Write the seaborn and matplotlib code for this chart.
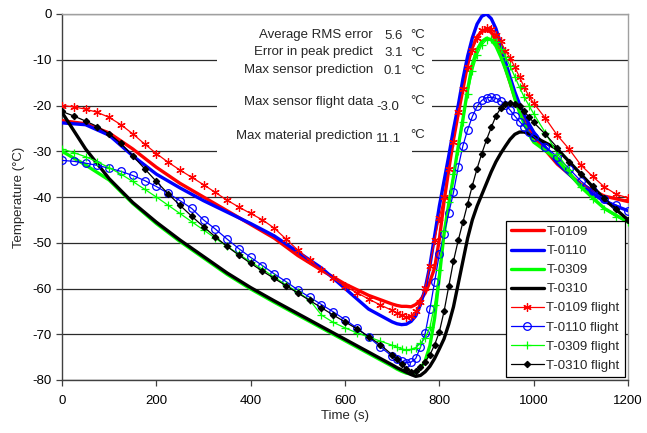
import numpy as np
import pandas as pd
import matplotlib
matplotlib.use("Agg")
import matplotlib.pyplot as plt
from matplotlib.patches import Rectangle
import seaborn as sns

# ---------------- data ----------------
time_pred = [0, 50, 100, 150, 200, 250, 300, 350, 400, 450, 500, 550, 600, 650, 700,
             710, 720, 730, 740, 750, 760, 770, 780, 790, 800, 810, 820, 830, 840, 850,
             860, 870, 880, 890, 900, 910, 920, 930, 940, 950, 960, 970, 980, 990, 1000,
             1050, 1100, 1150, 1200]

t0109 = [-23.3, -24.0, -26.0, -29.5, -33.5, -37.0, -40.0, -43.0, -46.0, -49.0, -52.8, -56.0, -59.0, -61.5, -63.4,
         -63.7, -63.9, -63.9, -64.0, -63.5, -62.5, -61.0, -58.5, -55.5, -49.3, -41.0, -34.0, -27.5, -21.8, -16.5,
         -11.0, -7.3, -5.0, -3.8, -3.5, -4.0, -5.8, -8.5, -11.8, -15.0, -18.3, -21.0, -23.3, -25.2, -26.8,
         -32.8, -37.2, -39.8, -41.0]

t0110 = [-23.8, -24.2, -26.5, -31.0, -35.0, -38.0, -40.8, -43.3, -45.8, -48.5, -52.0, -55.5, -60.0, -64.5, -67.3,
         -67.7, -67.9, -67.8, -67.2, -66.0, -63.5, -60.0, -55.0, -48.5, -42.0, -36.5, -31.0, -25.2, -20.0, -14.2,
         -9.2, -5.2, -2.2, -0.5, 0.0, -1.0, -3.2, -6.5, -10.3, -13.8, -17.0, -19.7, -22.0, -24.0, -25.8,
         -32.5, -37.5, -41.0, -43.0]

t0309 = [-30.0, -33.0, -36.3, -41.4, -45.8, -49.7, -53.3, -56.9, -60.1, -63.0, -65.8, -68.6, -71.4, -74.2, -77.0,
         -77.6, -78.1, -78.5, -78.7, -78.4, -77.5, -75.8, -72.5, -66.5, -57.5, -48.0, -41.5, -35.5, -29.0, -23.0,
         -16.5, -11.0, -7.8, -6.0, -5.3, -5.6, -7.0, -9.3, -12.0, -15.0, -18.5, -21.5, -24.0, -26.3, -28.0,
         -31.8, -37.8, -42.5, -45.5]

t0310 = [-21.5, -29.5, -36.0, -41.2, -45.5, -49.4, -53.0, -56.6, -59.8, -62.7, -65.5, -68.3, -71.1, -73.9, -76.7,
         -77.3, -77.8, -78.3, -78.8, -79.2, -79.0, -78.2, -77.0, -75.3, -73.2, -71.0, -67.8, -64.0, -59.0, -54.0,
         -49.0, -45.0, -42.0, -39.5, -37.0, -34.5, -32.3, -30.5, -28.9, -27.4, -26.3, -25.8, -25.8, -26.2, -26.8,
         -29.5, -35.0, -40.5, -45.0]

time_flight = [0, 25, 50, 75, 100, 125, 150, 175, 200, 225, 250, 275, 300, 325, 350, 375, 400, 425, 450,
               475, 500, 525, 550, 575, 600, 625, 650, 675, 700,
               710, 720, 730, 740, 750, 760, 770, 780, 790, 800, 810, 820, 830, 840, 850, 860, 870, 880,
               890, 900, 910, 920, 930, 940, 950, 960, 970, 980, 990, 1000,
               1025, 1050, 1075, 1100, 1125, 1150, 1175, 1200]

f0109 = [-20.0, -20.3, -20.8, -21.5, -22.6, -24.2, -26.2, -28.4, -30.5, -32.4, -34.1, -35.7, -37.3, -39.0, -40.7,
         -42.2, -43.6, -45.0, -46.8, -49.2, -51.6, -53.8, -55.9, -57.8, -59.5, -60.9, -62.3, -63.6, -64.8,
         -65.4, -65.9, -66.2, -66.0, -65.0, -63.0, -59.8, -55.0, -49.5, -44.5, -40.0, -33.8, -28.0, -21.5, -16.5,
         -11.5, -7.8, -5.2, -3.6, -3.0, -3.3, -4.5, -6.0, -8.0, -9.6, -11.6, -13.8, -16.0, -18.0, -19.5,
         -22.8, -26.5, -29.5, -33.0, -35.5, -37.8, -39.4, -40.2]

f0110 = [-32.0, -32.2, -32.6, -33.1, -33.7, -34.4, -35.3, -36.4, -37.7, -39.2, -40.8, -42.5, -45.0, -47.0, -49.2,
         -51.3, -53.2, -55.0, -56.8, -58.5, -60.3, -61.9, -63.5, -65.1, -66.8, -68.6, -70.6, -72.8, -74.8,
         -75.4, -75.9, -76.2, -76.1, -75.3, -72.8, -69.8, -64.5, -58.5, -52.5, -48.0, -43.5, -39.0, -33.5, -28.8,
         -25.3, -22.4, -20.2, -18.9, -18.3, -18.2, -18.4, -19.0, -19.8, -21.0, -22.3, -23.5, -24.6, -25.8, -26.8,
         -29.0, -31.2, -33.8, -36.5, -38.6, -40.5, -41.8, -43.0]

f0309 = [-29.5, -30.3, -31.2, -32.3, -33.6, -35.0, -36.6, -38.3, -40.0, -41.8, -43.6, -45.4, -47.2, -49.0, -50.8,
         -52.5, -54.2, -55.8, -57.5, -59.2, -60.8, -62.5, -65.8, -67.4, -68.6, -69.7, -70.6, -71.5, -72.4,
         -72.8, -73.2, -73.4, -73.3, -72.9, -72.0, -70.8, -68.5, -63.5, -56.0, -47.5, -41.0, -35.0, -30.0, -23.5,
         -17.5, -12.5, -9.0, -6.8, -5.7, -5.5, -6.2, -7.6, -9.3, -11.4, -13.7, -16.0, -18.2, -20.0, -21.8,
         -26.0, -30.5, -34.2, -37.8, -40.5, -42.7, -44.3, -45.5]

f0310 = [-21.3, -22.3, -23.4, -24.6, -26.2, -28.3, -31.0, -33.8, -36.6, -39.3, -41.8, -44.2, -46.5, -48.7, -50.8,
         -52.7, -54.5, -56.2, -57.8, -59.4, -61.0, -62.6, -64.2, -65.8, -67.3, -68.8, -70.5, -72.3, -74.5,
         -75.5, -76.6, -77.6, -78.2, -78.0, -77.2, -76.0, -74.5, -72.3, -69.5, -65.0, -59.5, -54.0, -49.5, -45.5,
         -41.5, -37.5, -33.8, -30.5, -27.5, -24.8, -22.3, -20.6, -19.7, -19.4, -19.6, -20.2, -21.3, -22.5, -23.7,
         -26.3, -29.2, -32.3, -35.0, -37.6, -40.2, -42.7, -45.0]

pred_names = ["T-0109", "T-0110", "T-0309", "T-0310"]
flight_names = ["T-0109 flight", "T-0110 flight", "T-0309 flight", "T-0310 flight"]

stat_labels = ["Average RMS error", "Error in peak predict", "Max sensor prediction",
               "Max sensor flight data", "Max material prediction"]
stat_values = ["5.6", "3.1", "0.1", "-3.0", "11.1"]
stat_unit = "°C"

x_ticks = [0, 200, 400, 600, 800, 1000, 1200]
y_ticks = [0, -10, -20, -30, -40, -50, -60, -70, -80]

# ---------------- style ----------------
sns.set_style("white")
plt.rcParams["font.family"] = ["Liberation Sans", "DejaVu Sans"]
plt.rcParams["font.size"] = 9.5

W, H = 647, 433
fig = plt.figure(figsize=(W / 100, H / 100), dpi=100)
L, R, T, B = 62, 628, 14, 380
ax = fig.add_axes([L / W, 1 - B / H, (R - L) / W, (B - T) / H])

def ax_frac(px, py):
    return (px - L) / (R - L), (B - py) / (B - T)

colors = ["#ff0000", "#0000ff", "#00ff00", "#000000"]
markers = [(6, 2, 0), "o", "+", "D"]
msizes = [6, 5.5, 6, 3.2]

pred_series = [t0109, t0110, t0309, t0310]
flight_series = [f0109, f0110, f0309, f0310]

for name, vals, c in zip(pred_names, pred_series, colors):
    sns.lineplot(x=time_pred, y=vals, ax=ax, color=c, linewidth=2.4, label=name,
                 estimator=None, zorder=3)

for name, vals, c, m, ms in zip(flight_names, flight_series, colors, markers, msizes):
    kw = dict(marker=m, markersize=ms, markeredgewidth=0.9)
    if m == "o":
        kw.update(markerfacecolor="none", markeredgecolor=c)
    else:
        kw.update(markerfacecolor=c, markeredgecolor=c)
    sns.lineplot(x=time_flight, y=vals, ax=ax, color=c, linewidth=0.9, label=name,
                 estimator=None, zorder=4, **kw)

ax.set_xlim(0, 1200)
ax.set_ylim(-80, 0)
ax.set_xticks(x_ticks)
ax.set_yticks(y_ticks)
ax.set_xticklabels([str(v) for v in x_ticks])
ax.set_yticklabels([str(v) for v in y_ticks])

ax.set_axisbelow(True)
ax.yaxis.grid(True, color="#2a2a2a", linewidth=0.9)
ax.xaxis.grid(False)

# white panel behind the statistics text (hides gridlines)
x0, y0 = ax_frac(217, 140)
x1, y1 = ax_frac(432, 20)
ax.add_patch(Rectangle((x0, y0), x1 - x0, y1 - y0, transform=ax.transAxes,
                       facecolor="white", edgecolor="none", zorder=1))
x0b, y0b = ax_frac(217, 162)
x1b, _ = ax_frac(412, 140)
ax.add_patch(Rectangle((x0b, y0b), x1b - x0b, y0 - y0b, transform=ax.transAxes,
                       facecolor="white", edgecolor="none", zorder=1))

for side in ["left", "bottom"]:
    ax.spines[side].set_color("#404040")
    ax.spines[side].set_linewidth(1.0)
for side in ["top", "right"]:
    ax.spines[side].set_color("#a0a0a0")
    ax.spines[side].set_linewidth(1.0)

ax.tick_params(axis="both", direction="out", length=4, width=0.9, color="#404040",
               labelsize=9.5, labelcolor="black", left=True, bottom=True)
ax.tick_params(axis="y", pad=3.5)
ax.tick_params(axis="x", pad=7)

ax.set_xlabel("Time (s)", fontsize=9.5)
ax.set_ylabel("Temperature (°C)", fontsize=9.5)
ax.xaxis.set_label_coords(0.5, (B - 410) / (B - T))
ax.yaxis.set_label_coords((25 - L) / (R - L), 0.5)

# statistics text
lab_y = [35, 52.5, 69.5, 102.5, 135.5]
val_x = [384, 384, 384, 376, 376]
val_y = [36, 53.5, 71, 106.5, 138.5]
unit_y = [35.5, 53, 70.5, 100.5, 134.5]
for lab, ly, v, vx, vy, uy in zip(stat_labels, lab_y, stat_values, val_x, val_y, unit_y):
    fig.text(373 / W, 1 - ly / H, lab, ha="right", va="center", fontsize=9.5)
    fig.text(vx / W, 1 - vy / H, v, ha="left", va="center", fontsize=9.5)
    fig.text(410 / W, 1 - uy / H, stat_unit, ha="left", va="center", fontsize=9.5)

# legend
lx, ly = ax_frac(625, 377)
leg = ax.legend(loc="lower right", bbox_to_anchor=(lx, ly), frameon=True, fancybox=False,
                shadow=False, fontsize=9.5, handlelength=2.5, handletextpad=0.2,
                labelspacing=0.52, borderpad=0.4, borderaxespad=0.0, framealpha=1)
leg.get_frame().set_edgecolor("black")
leg.get_frame().set_linewidth(0.9)

fig.savefig("out.png", dpi=100)
